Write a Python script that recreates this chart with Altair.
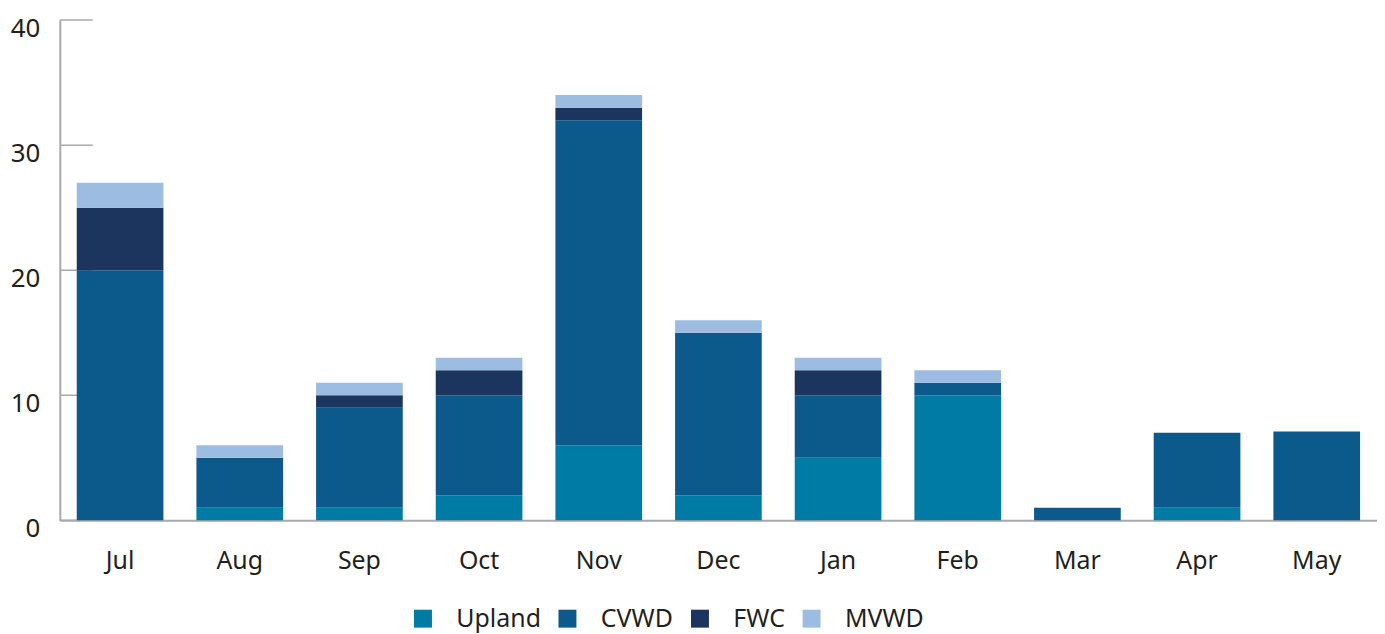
import altair as alt
import pandas as pd

months = ["Jul", "Aug", "Sep", "Oct", "Nov", "Dec", "Jan", "Feb", "Mar", "Apr", "May"]
series = ["Upland", "CVWD", "FWC", "MVWD"]
colors = ["#007ba6", "#0c5a8c", "#1b355e", "#9dbce2"]
upland = [0, 1, 1, 2, 6, 2, 5, 10, 0, 1, 0]
cvwd = [20, 4, 8, 8, 26, 13, 5, 1, 1, 6, 7.1]
fwc = [5, 0, 1, 2, 1, 0, 2, 0, 0, 0, 0]
mvwd = [2, 1, 1, 1, 1, 1, 1, 1, 0, 0, 0]
y_ticks = [0, 10, 20, 30, 40]

rows = []
for si, (name, vals) in enumerate(zip(series, [upland, cvwd, fwc, mvwd])):
    for m, v in zip(months, vals):
        rows.append({"month": m, "series": name, "value": v, "order": si})
df = pd.DataFrame(rows)
ticks_df = pd.DataFrame({"t": y_ticks})

FONT = "Noto Sans"
yscale = alt.Scale(domain=[0, 40], nice=False)

bars = alt.Chart(df).mark_bar().encode(
    x=alt.X("month:N", sort=months,
            scale=alt.Scale(paddingInner=0.2756, paddingOuter=0.1415, round=False),
            axis=alt.Axis(title=None, ticks=False, labelAngle=0, labelFontSize=25,
                          labelPadding=28, labelColor="#231f20", labelFont=FONT,
                          domainColor="#a7a9ac", domainWidth=2)),
    y=alt.Y("value:Q", stack="zero", scale=yscale,
            axis=alt.Axis(title=None, values=y_ticks, ticks=False, grid=False,
                          labelFontSize=26, labelPadding=20, labelOffset=8,
                          labelColor="#231f20", labelFont=FONT,
                          domainColor="#a7a9ac", domainWidth=2)),
    color=alt.Color("series:N", sort=series,
                    scale=alt.Scale(domain=series, range=colors),
                    legend=alt.Legend(title=None, orient="none", legendX=352, legendY=588,
                                      direction="horizontal", columns=4,
                                      symbolType="square", symbolSize=324,
                                      symbolStrokeWidth=0, symbolOpacity=1,
                                      labelFontSize=25, labelFont=FONT, labelColor="#231f20",
                                      labelOffset=21, columnPadding=14, padding=0)),
    order=alt.Order("order:Q"),
)

tick_rules = alt.Chart(ticks_df).mark_rule(color="#a7a9ac", strokeWidth=1.5).encode(
    y=alt.Y("t:Q", scale=yscale),
    x=alt.value(0),
    x2=alt.value(33),
)

chart = alt.layer(tick_rules, bars).properties(
    width=1322, height=502,
    background="white",
    autosize=alt.AutoSizeParams(type="none"),
    padding={"left": 52, "top": 11, "right": 0, "bottom": 113},
).configure_view(stroke=None)

chart.save("out.html", embed_options={"renderer": "svg", "actions": False})
